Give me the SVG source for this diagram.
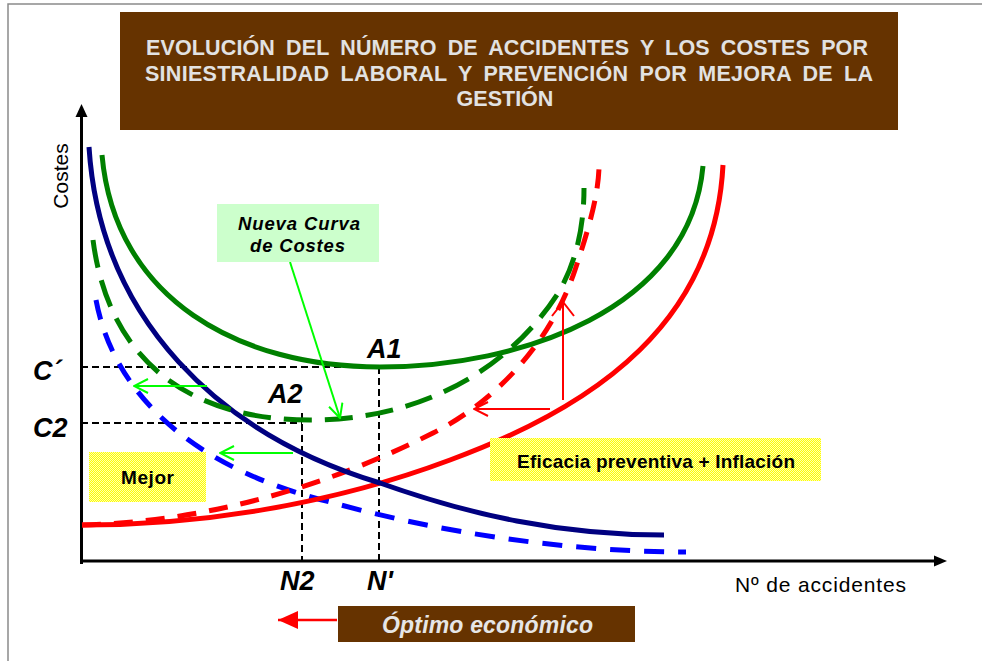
<svg xmlns="http://www.w3.org/2000/svg" width="982" height="661" viewBox="0 0 982 661">
<style>
.t{font-family:"Liberation Sans",Arial,sans-serif}
.title{font-size:21.5px;font-weight:bold;fill:#e2e2e2;word-spacing:5px}
.lbl{font-size:27px;font-weight:bold;font-style:italic;fill:#000}
.ax{font-size:21px;fill:#000}
.crv{fill:none;stroke-width:5}
.blk{fill:none;stroke:#000;stroke-width:2;stroke-dasharray:7 4}
.ga{fill:none;stroke:#00ff00;stroke-width:2}
.ra{fill:none;stroke:#ff0000;stroke-width:2}
</style>
<defs>
<pattern id="dither" width="2" height="2" patternUnits="userSpaceOnUse">
<rect width="2" height="2" fill="#ffff00"/>
<rect x="0" y="0" width="1" height="1" fill="#ffffb0"/>
<rect x="1" y="1" width="1" height="1" fill="#ffffb0"/>
</pattern>
<marker id="vg" viewBox="0 0 16 16" refX="15" refY="8" markerWidth="16" markerHeight="16" markerUnits="userSpaceOnUse" orient="auto">
<path d="M1,1 L15,8 L1,15" fill="none" stroke="#00ff00" stroke-width="2"/>
</marker>
<marker id="vr" viewBox="0 0 16 16" refX="15" refY="8" markerWidth="16" markerHeight="16" markerUnits="userSpaceOnUse" orient="auto">
<path d="M1,1 L15,8 L1,15" fill="none" stroke="#ff0000" stroke-width="2"/>
</marker>
<marker id="vr2" viewBox="0 0 16 24" refX="15" refY="12" markerWidth="16" markerHeight="24" markerUnits="userSpaceOnUse" orient="auto">
<path d="M1,1 L15,12 L1,23" fill="none" stroke="#ff0000" stroke-width="2"/>
</marker>
<marker id="fr" viewBox="0 0 20 18" refX="20" refY="9" markerWidth="20" markerHeight="18" markerUnits="userSpaceOnUse" orient="auto">
<path d="M0,0 L20,9 L0,18 Z" fill="#ff0000"/>
</marker>
</defs>
<rect width="982" height="661" fill="#fff"/>
<g id="frame" fill="none" stroke="#8a8a8a" stroke-width="1.5">
<path d="M8,661 L8,4 L982,4"/>
</g>
<g id="title">
<rect x="120" y="12" width="778" height="118" fill="#663300"/>
<text class="t title" x="146" y="55" textLength="722">EVOLUCIÓN DEL NÚMERO DE ACCIDENTES Y LOS COSTES POR</text>
<text class="t title" x="145" y="81" textLength="728">SINIESTRALIDAD LABORAL Y PREVENCIÓN POR MEJORA DE LA</text>
<text class="t title" x="505" y="106" text-anchor="middle">GESTIÓN</text>
</g>
<g id="guides">
<path class="blk" d="M81,367 L379,367 M379,367 L379,561"/>
<path class="blk" d="M81,423 L302,423 M302,413 L302,561"/>
</g>
<g id="axes">
<path d="M81.5,564 L81.5,114 M80,561 L936,561" stroke="#000" stroke-width="3" fill="none"/>
<path d="M81.5,104 L75.5,117 L87.5,117 Z" fill="#000"/>
<path d="M947,561 L934,555.5 L934,566.5 Z" fill="#000"/>
<text class="t ax" transform="translate(68,176) rotate(-90)" text-anchor="middle" font-size="22.5">Costes</text>
<text class="t ax" x="735" y="592" textLength="171">Nº de accidentes</text>
</g>
<g id="curves">
<path id="blue-dashed" class="crv" stroke="#0000ff" stroke-dasharray="20 14" d="M96,300 C115,400 200,470 330,502 C430,530 560,552 686,552"/>
<path id="red-solid" class="crv" stroke="#ff0000" d="M82,525 C200,525 330,505 450,460 C600,405 715,320 723,165"/>
<path id="red-dashed" class="crv" stroke="#ff0000" stroke-dasharray="19 13" d="M82,525 C200,522 320,490 433,433 C493,403 550,345 575,270 C590,225 598,195 599,168"/>
<path id="navy" class="crv" stroke="#000080" d="M89,147 C100,320 220,435 380,483 C470,515 560,535 664,535"/>
<path id="green-dashed" class="crv" stroke="#008000" stroke-dasharray="28 13" d="M93,240 C110,370 200,420 310,420 C420,420 510,370 560,290 C578,258 584,222 584,188"/>
<path id="green-solid" class="crv" stroke="#008000" d="M102,155 C115,300 240,367 380,367 C520,367 690,310 703,166"/>
</g>
<g id="connectors">
<path class="ga" d="M290,262 L340,418" marker-end="url(#vg)"/>
<path class="ga" d="M207,386 L134,386" marker-end="url(#vg)"/>
<path class="ga" d="M293,453 L220,453" marker-end="url(#vg)"/>
<path class="ra" d="M563,400 L563,302" marker-end="url(#vr2)"/>
<path class="ra" d="M550,409 L474,409" marker-end="url(#vr)"/>
<path d="M337,620 L278,620" stroke="#ff0000" stroke-width="2.5" fill="none" marker-end="url(#fr)"/>
</g>
<g id="labels">
<text class="t lbl" x="33" y="380">C´</text>
<text class="t lbl" x="33" y="437">C2</text>
<text class="t lbl" x="367" y="358">A1</text>
<text class="t lbl" x="268" y="403">A2</text>
<text class="t lbl" x="280" y="590">N2</text>
<text class="t lbl" x="367" y="590">N'</text>
</g>
<g id="nueva-curva">
<rect x="217" y="204" width="162" height="58" fill="#ccffcc"/>
<text class="t" x="238" y="230" font-size="18.5" font-weight="bold" font-style="italic" textLength="122">Nueva Curva</text>
<text class="t" x="250" y="252" font-size="18.5" font-weight="bold" font-style="italic" textLength="95">de Costes</text>
</g>
<g id="mejor">
<rect x="89" y="452" width="117" height="50" fill="url(#dither)"/>
<text class="t" x="121" y="484" font-size="19" font-weight="bold" textLength="53">Mejor</text>
</g>
<g id="eficacia">
<rect x="490" y="438" width="331" height="43" fill="url(#dither)"/>
<text class="t" x="517" y="468" font-size="19" font-weight="bold" textLength="278">Eficacia preventiva + Inflación</text>
</g>
<g id="optimo">
<rect x="338" y="606" width="297" height="36" fill="#663300"/>
<text class="t" x="382" y="633" font-size="23" font-weight="bold" font-style="italic" fill="#e6e6e6" textLength="211">Óptimo económico</text>
</g>
</svg>
